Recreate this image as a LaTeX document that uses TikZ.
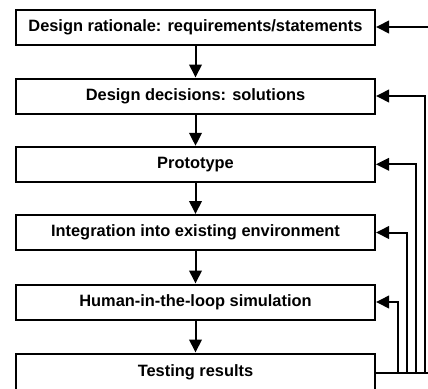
\documentclass[tikz,border=0pt]{standalone}
\usepackage{fontspec}
\setmainfont{Liberation Sans}
\usetikzlibrary{arrows.meta}
\begin{document}
\begin{tikzpicture}[x=1pt,y=-1pt,
  stagebox/.style={draw, line width=2pt, minimum width=359pt, minimum height=35pt,
    inner sep=0pt, font=\fontsize{16.4}{18}\selectfont\bfseries},
  arr/.style={line width=2pt, -{Triangle[length=13pt,width=12.5pt]}}]
\useasboundingbox (0,0) rectangle (428,388);
\clip (0,0) rectangle (428,388);
\node[stagebox] (b1) at (195.5,27) {Design rationale: requirements/statements};
\node[stagebox] (b2) at (195.5,96) {Design decisions: solutions};
\node[stagebox] (b3) at (195.5,164.3) {Prototype};
\node[stagebox] (b4) at (195.5,232.5) {Integration into existing environment};
\node[stagebox] (b5) at (195.5,302) {Human-in-the-loop simulation};
\node[stagebox, minimum height=38pt] (b6) at (195.5,372.5) {Testing results};
\draw[arr] (b1) -- (b2);
\draw[arr] (b2) -- (b3);
\draw[arr] (b3) -- (b4);
\draw[arr] (b4) -- (b5);
\draw[arr] (b5) -- (b6);
\coordinate (v5) at (398,0);
\coordinate (v4) at (407,0);
\coordinate (v3) at (416,0);
\coordinate (v2) at (424.5,0);
\coordinate (v1) at (434,0);
\draw[arr] ([yshift=-0.7pt]b6.east) -| (v5 |- b5.east) -- (b5.east);
\draw[arr] ([yshift=-0.7pt]b6.east) -| (v4 |- b4.east) -- (b4.east);
\draw[arr] ([yshift=-0.7pt]b6.east) -| (v3 |- b3.east) -- (b3.east);
\draw[arr] ([yshift=-0.7pt]b6.east) -| (v2 |- b2.east) -- (b2.east);
\draw[arr] ([yshift=-0.7pt]b6.east) -| (v1 |- b1.east) -- (b1.east);
\end{tikzpicture}
\end{document}
